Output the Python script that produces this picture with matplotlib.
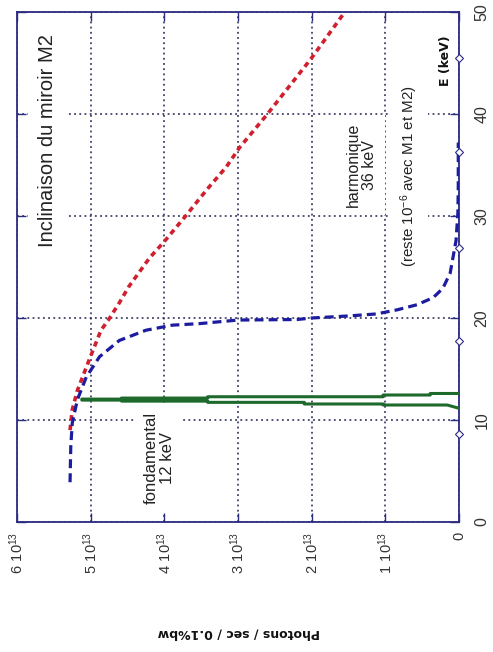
import numpy as np
import matplotlib.pyplot as plt

plt.rcParams['font.family'] = ['Liberation Sans', 'DejaVu Sans']
plt.rcParams['mathtext.default'] = 'regular'

# photons in units of 1e13 photons/s/0.1%bw, energies in keV
ph_ticks = [0, 1, 2, 3, 4, 5, 6]
ph_labels = ['0', '$1\\ 10^{13}$', '$2\\ 10^{13}$', '$3\\ 10^{13}$',
             '$4\\ 10^{13}$', '$5\\ 10^{13}$', '$6\\ 10^{13}$']
e_ticks = [0, 10, 20, 30, 40, 50]

# flux without mirror tilt (red)
red_E = [9.0, 11.0, 12.9, 15.9, 18.8, 19.8, 21.5, 23.1, 25.9, 27.5, 30.1, 32.7,
         34.8, 36.7, 40.0, 45.5, 50.0]
red_ph = [5.28, 5.25, 5.18, 5.02, 4.86, 4.76, 4.61, 4.48, 4.2, 4.0, 3.70, 3.41,
          3.16, 2.98, 2.6, 2.0, 1.55]

# flux with tilted mirror M2 (blue)
blue_E = [3.9, 7.4, 9.7, 12.0, 14.2, 16.2, 17.8, 18.8, 19.3, 19.45, 19.6, 19.8, 19.85,
          20.0, 20.2, 20.4, 20.8, 21.3, 22.0, 22.9, 24.4, 26.0, 27.6, 30.3, 33.0, 37.2]
blue_ph = [5.28, 5.27, 5.25, 5.18, 5.06, 4.88, 4.61, 4.25, 3.89, 3.52, 3.3, 3.0, 2.2,
           2.0, 1.5, 1.12, 0.84, 0.57, 0.35, 0.22, 0.12, 0.08, 0.04, 0.015, 0.01, 0.01]

# fundamental peak at 12 keV (green)
green_E = [11.15, 11.47, 11.47, 11.57, 11.57, 11.73, 11.73, 11.85, 11.85, 11.95, 11.95,
           12.05, 12.05, 12.15, 12.15, 12.28, 12.28, 12.45, 12.45, 12.6, 12.6]
green_ph = [0.0, 0.16, 1.03, 1.03, 2.1, 2.1, 3.41, 3.41, 4.58, 4.58, 5.12,
            5.12, 4.58, 4.58, 3.41, 3.41, 1.03, 1.03, 0.39, 0.39, 0.0]

marker_E = [8.6, 17.7, 26.9, 36.3, 45.5]

navy = '#2b2b80'
fig = plt.figure(figsize=(4.93, 6.52), dpi=100)
ax = fig.add_axes([17/493, 130/652, 442/493, 510/652])

ax.plot(red_ph, red_E, color='#d02030', lw=2.6, ls=(0, (1.5, 1.2)), zorder=3)
ax.plot(blue_ph, blue_E, color='#1c1ca0', lw=2.3, ls=(0, (2.8, 1.6)), zorder=3)
ax.plot(green_ph, green_E, color='#1e6a2c', lw=2.2, zorder=4)
ax.plot(np.zeros(len(marker_E)), marker_E, 'D', mfc='white', mec=navy, ms=4,
        mew=0.8, clip_on=False, zorder=6)

ax.set_xlim(6, 0)
ax.set_ylim(0, 50)
ax.set_xticks(ph_ticks)
ax.set_xticklabels(ph_labels)
ax.set_yticks(e_ticks)
ax.set_yticklabels([str(e) for e in e_ticks])
ax.yaxis.tick_right()
ax.tick_params(axis='both', which='both', direction='in', length=6.5, width=1,
               color=navy, top=True, bottom=True, left=True, right=True,
               labelcolor='#333333')
ax.tick_params(axis='x', labelrotation=90, labelsize=10.5, pad=7)
ax.tick_params(axis='y', labelrotation=90, labelsize=11.5, pad=11)
for lab in ax.get_yticklabels():
    lab.set_va('center')

ax.grid(True, color='#202050', ls=(0, (1.2, 2.2)), lw=1.1)
for s in ax.spines.values():
    s.set_color(navy)
    s.set_linewidth(1.3)

box = dict(facecolor='white', edgecolor='none', boxstyle='square,pad=0.5')
ax.text(5.58, 37.4, 'Inclinaison du miroir M2', rotation=90, fontsize=14.5,
        ha='center', va='center', color='#222222', bbox=box, zorder=5)
ax.text(1.32, 35.0, 'harmonique\n36 keV', rotation=90, fontsize=11.5,
        ha='center', va='center', color='#222222', linespacing=1.1,
        bbox=box, zorder=5)
ax.text(0.67, 33.9, '(reste 10$^{-6}$ avec M1 et M2)', rotation=90, fontsize=10.9,
        ha='center', va='center', color='#222222', bbox=box, zorder=5)
ax.text(4.07, 6.3, 'fondamental\n12 keV', rotation=90, fontsize=12,
        ha='center', va='center', color='#222222', linespacing=1.1,
        bbox=box, zorder=5)
ax.text(0.19, 45.2, 'E (keV)', rotation=90, fontsize=9, fontweight='bold',
        family='DejaVu Sans', ha='center', va='center', color='#111111', zorder=5)

fig.text(239/493, 1 - 633/652, 'Photons / sec / 0.1%bw', rotation=180,
         fontsize=9, fontweight='bold', family='DejaVu Sans',
         ha='center', va='center', color='#111111')

fig.savefig('out.png', dpi=100)
